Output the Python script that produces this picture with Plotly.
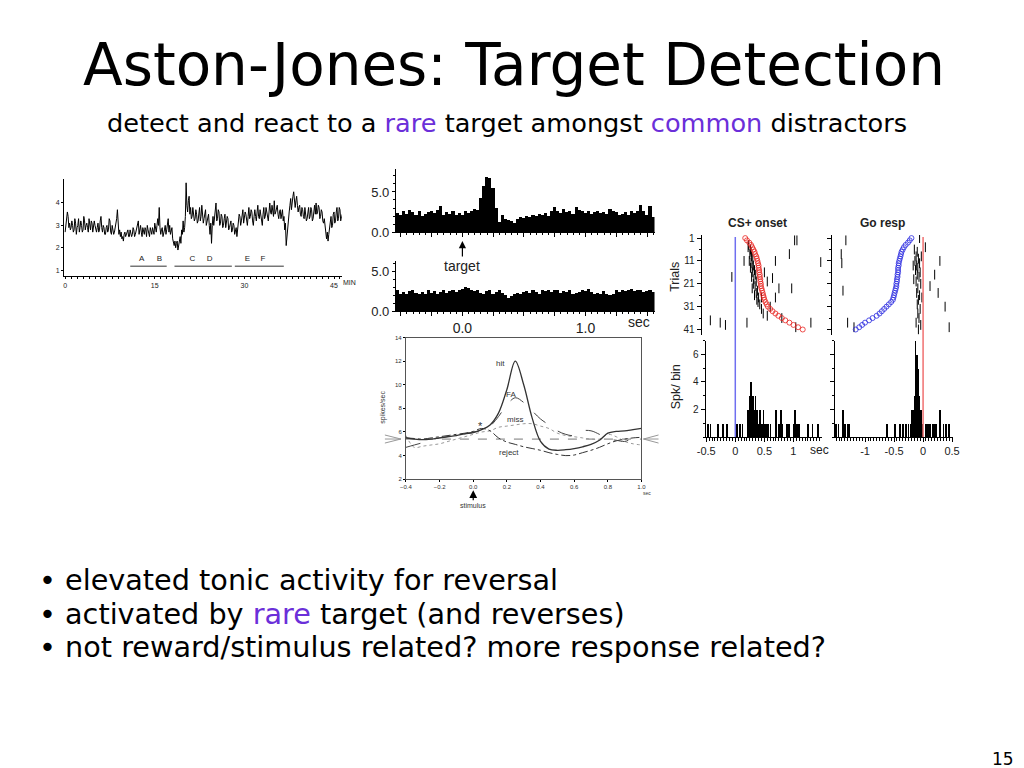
import plotly.graph_objects as go
import numpy as np

# figure size; the page photograph maps figure pixels with a small scale/offset,
# so reference-pixel positions are converted through that mapping
FW, FH = 1024, 768
SX, OX, SY, OY = 0.983, 16.0, 0.981, 13.0
def PX(x): return (x - OX) / SX / FW
def PY(y): return 1 - (y - OY) / SY / FH

PURPLE = "#6b2fd9"

# ---------------- data ----------------
# tonic trace (spikes/sec): samples every 0.25 min and the samples halfway between them
trace_step = 0.25
trace_vals = [
 2.7, 3.2, 3.4, 3.1, 2.9, 3.0, 2.8, 3.1, 2.9, 3.3, 2.9, 3.0, 2.8, 3.2, 3.0, 2.9, 3.3, 2.8, 3.1, 2.9, 3.0,
 2.7, 3.1, 2.8, 3.4, 2.7, 2.9, 2.6, 3.0, 2.8, 3.2, 2.6, 2.8, 2.7, 3.0, 3.7, 2.6, 2.5, 2.4, 2.3, 2.7,
 2.6, 2.8, 2.5, 2.7, 2.6, 2.8, 2.6, 2.9, 3.2, 2.8, 2.7, 2.9, 2.6, 2.8, 3.0, 2.7, 2.9, 2.6, 2.8, 3.1,
 2.7, 3.3, 3.8, 2.6, 2.9, 2.6, 3.0, 2.8, 3.3, 3.0, 2.7, 2.4, 2.1, 2.0, 2.3, 2.1, 2.5, 2.8, 3.2, 2.9,
 4.9, 3.6, 4.3, 3.8, 3.4, 3.6, 3.3, 3.5, 3.2, 3.8, 3.4, 3.6, 3.3, 3.7, 3.2, 3.5, 2.6, 2.2, 3.4, 3.3,
 4.0, 3.3, 3.6, 3.1, 3.4, 3.0, 3.5, 3.1, 3.3, 2.9, 3.2, 2.8, 3.0, 2.7, 2.5, 3.1, 3.4, 3.2, 3.7, 3.3,
 3.5, 3.0, 3.8, 3.4, 3.6, 3.0, 3.7, 3.2, 3.9, 3.3, 3.5, 3.0, 3.8, 3.4, 3.6, 3.2, 4.0, 3.5, 3.7, 4.1,
 3.6, 3.9, 3.3, 3.7, 3.5, 3.2, 2.8, 2.1, 3.0, 3.6, 4.2, 3.9, 4.5, 3.8, 4.3, 3.6, 3.9, 3.4, 3.7, 3.3,
 3.6, 3.3, 3.8, 3.4, 3.7, 3.3, 3.9, 4.0, 3.6, 3.8, 3.4, 3.6, 3.1, 2.9, 2.4, 2.3, 2.8, 3.4, 3.0, 3.6,
 3.2, 3.8, 3.3, 3.7, 3.4]
trace_mid = [
 3.0, 3.6, 2.9, 2.8, 3.2, 2.7, 3.3, 2.6, 3.0, 2.7, 3.2, 2.7, 3.4, 2.8, 3.1, 2.7, 2.9, 3.2, 2.7, 3.2, 2.8,
 2.9, 2.7, 3.2, 2.9, 3.0, 2.6, 2.9, 2.7, 3.3, 2.7, 3.0, 2.6, 2.9, 3.3, 2.9, 2.8, 2.7, 2.5, 2.6, 2.5,
 2.7, 2.5, 2.8, 2.5, 2.9, 2.5, 2.8, 3.0, 2.6, 3.0, 2.5, 2.7, 2.9, 2.5, 2.8, 2.5, 2.7, 2.9, 2.6, 2.8,
 3.0, 3.0, 2.9, 2.8, 2.5, 2.8, 2.6, 3.1, 2.7, 2.6, 2.9, 2.2, 2.3, 2.2, 1.9, 2.3, 2.2, 2.6, 2.7, 3.4,
 3.9, 4.1, 3.5, 3.3, 3.8, 3.2, 3.7, 3.1, 3.5, 3.2, 3.9, 3.1, 3.5, 3.0, 3.4, 3.0, 3.1, 3.0, 3.0, 3.6,
 3.2, 3.7, 3.0, 3.5, 2.9, 3.3, 2.9, 3.4, 2.8, 3.1, 2.7, 3.1, 2.6, 2.9, 2.8, 3.5, 3.0, 3.5, 3.1, 3.6,
 3.2, 3.4, 3.3, 3.7, 3.2, 3.4, 3.4, 3.6, 3.4, 3.7, 3.2, 3.5, 3.3, 3.8, 3.3, 3.6, 3.6, 3.9, 3.4, 3.5,
 3.8, 3.5, 3.6, 3.3, 3.7, 3.4, 3.1, 2.6, 3.4, 3.9, 3.7, 4.3, 4.0, 4.1, 3.9, 3.8, 3.5, 3.8, 3.4, 3.8,
 3.2, 3.7, 3.3, 3.8, 3.2, 3.6, 3.5, 3.5, 3.9, 3.3, 3.7, 3.2, 3.3, 2.6, 2.7, 2.6, 3.2, 2.9, 3.5, 3.1,
 3.6, 3.2, 3.8, 3.2, 3.5]
epoch_labels = ["A", "B", "C", "D", "E", "F"]
epoch_label_x = [12.8, 15.8, 21.3, 24.2, 30.5, 33.1]
epoch_bars = [(10.9, 17.0), (18.3, 27.9), (28.4, 36.6)]
trace_ticks = [0, 15, 30, 45]

# PSTH (target / non-target), bins of 0.025 s starting at -0.54 s
psth_start = -0.54
psth_bin = 0.025
psth_target = [
 2.4, 2.2, 2.6, 2.3, 2.8, 2.5, 2.2, 2.6, 2.0, 2.3, 2.5, 2.7, 2.4, 2.8, 3.3, 2.2, 2.5, 2.3, 2.7, 2.1,
 2.4, 2.2, 2.7, 2.4, 2.6, 2.9, 2.8, 4.3, 5.8, 6.9, 6.8, 5.5, 3.0, 1.3, 2.2, 1.6, 1.5, 1.4, 1.2, 1.6,
 1.9, 1.8, 2.0, 1.9, 2.2, 2.0, 2.3, 2.1, 2.4, 2.0, 2.6, 3.2, 2.7, 2.4, 2.9, 2.5, 2.7, 2.3, 3.1, 2.8,
 2.6, 2.4, 2.7, 2.3, 2.5, 2.6, 2.4, 2.5, 2.3, 2.9, 2.7, 2.5, 2.1, 2.3, 2.5, 2.2, 2.6, 2.4, 2.7, 3.4,
 2.6, 2.2, 3.3, 1.9]
psth_nontarget = [
 2.7, 2.2, 2.4, 2.1, 2.5, 2.6, 2.3, 2.2, 2.4, 2.1, 2.6, 2.3, 2.5, 2.2, 2.4, 2.6, 2.3, 2.5, 2.7, 2.4,
 2.6, 2.8, 3.0, 2.9, 2.7, 2.5, 2.6, 2.3, 2.1, 2.5, 2.6, 2.2, 2.4, 2.6, 2.3, 2.0, 1.7, 1.9, 2.1, 2.3,
 2.2, 2.4, 2.5, 2.3, 2.6, 2.4, 2.2, 2.7, 2.5, 2.6, 2.4, 2.7, 2.6, 2.3, 2.5, 2.4, 2.6, 2.2, 2.3, 2.4,
 2.7, 2.5, 2.8, 2.4, 2.2, 2.3, 2.1, 2.5, 2.2, 2.0, 2.2, 2.6, 2.4, 2.7, 2.5, 2.6, 2.8, 2.5, 2.7, 2.6,
 2.4, 2.5, 2.6, 2.4]

# response-type curves (spikes/sec)
t_curve = [-0.4, -0.35, -0.3, -0.25, -0.2, -0.15, -0.1, -0.05, 0.0, 0.05, 0.1, 0.15, 0.2, 0.25, 0.3,
           0.35, 0.4, 0.45, 0.5, 0.55, 0.6, 0.65, 0.7, 0.75, 0.8, 0.85, 0.9, 0.95, 1.0]
hit = [5.5, 5.4, 5.35, 5.4, 5.5, 5.6, 5.7, 5.85, 5.95, 6.2, 6.6, 7.6, 9.6, 12.0, 10.0,
       7.2, 5.2, 4.55, 4.45, 4.5, 4.6, 4.75, 4.95, 5.3, 5.9, 6.05, 6.1, 6.2, 6.3]
fa = [4.7, 4.9, 5.1, 5.35, 5.5, 5.6, 5.75, 5.85, 6.0, 6.15, 6.5, 7.3, 8.3, 8.9, 8.5,
      7.8, 7.1, 6.6, 6.1, 5.8, 5.7, 6.1, 6.1, 5.8, 5.4, 5.3, 5.2, 5.5, 5.8]
miss = [5.7, 4.7, 4.8, 4.9, 5.0, 5.2, 5.4, 5.6, 5.8, 6.0, 6.1, 6.4, 6.5, 6.6, 6.7,
        6.7, 6.5, 6.3, 5.9, 5.7, 5.6, 5.5, 5.4, 5.4, 5.8, 5.6, 5.2, 5.0, 4.9]
reject = [5.5, 5.45, 5.4, 5.5, 5.6, 5.7, 5.8, 5.9, 6.05, 6.3, 6.1, 5.5, 5.15, 4.95, 4.75,
          4.6, 4.45, 4.25, 4.1, 4.0, 4.05, 4.25, 4.45, 4.7, 5.0, 5.25, 5.4, 5.5, 5.55]
baseline_rate = 5.4

# raster: CS+ onset aligned
trials = list(range(1, 42))
cs_resp_time = [0.17, 0.2, 0.24, 0.27, 0.29, 0.31, 0.33, 0.34, 0.36, 0.37, 0.38, 0.39, 0.4, 0.4, 0.41,
                0.41, 0.42, 0.42, 0.43, 0.43, 0.44, 0.44, 0.45, 0.46, 0.47, 0.48, 0.49, 0.5, 0.52, 0.54,
                0.56, 0.6, 0.64, 0.69, 0.74, 0.8, 0.86, 0.93, 1.0, 1.08, 1.16]
cs_spk_x = [1.02, 1.06, 0.69, 1.47, 0.15, -0.06, 0.64, 0.75, 0.97, 0.69, 0.8, -0.43, -0.26, -0.17, 0.2,
            1.3, 1.04, 0.93, 0.22, 0.26, 0.25, 0.28, 0.3, 0.27, 0.31, 0.29, 0.33, 0.3, 0.35, 0.32,
            0.36, 0.34, 0.38, 0.36, 0.4, 0.37, 0.42, 0.45, 0.48, 0.55, 0.28, 0.24, 0.31, 0.33, 0.39,
            0.26, 0.29, 0.5, 0.55, 0.6, 0.45, 0.23, 0.27]
cs_spk_t = [2, 2, 11, 11.5, 11, 18, 18.5, 23, 23, 27, 36, 37, 38, 39, 38,
            38, 40, 8, 5, 6, 8, 9, 10, 12, 13, 14, 15, 16, 17, 19,
            20, 22, 24, 25, 27, 28, 30, 32, 34, 35, 18, 11, 21, 26, 29,
            14, 23, 16, 20, 31, 27, 4, 7]
cs_hist_x = [-0.47, -0.43, -0.3, -0.22, -0.15, 0.02, 0.08, 0.12, 0.21, 0.23, 0.24, 0.26, 0.27, 0.28,
             0.29, 0.3, 0.31, 0.32, 0.33, 0.34, 0.35, 0.37, 0.38, 0.4, 0.42, 0.44, 0.46, 0.48, 0.5,
             0.52, 0.56, 0.6, 0.69, 0.75, 0.78, 0.8, 0.88, 0.92, 1.0, 1.02, 1.04, 1.06, 1.08, 1.1,
             1.25, 1.32, 1.42]
cs_hist_y = [1, 1, 1, 1, 1, 1, 1, 1, 2, 2, 3, 4, 2, 3,
             2, 3, 2, 1, 2, 3, 1, 2, 1, 1, 2, 1, 1, 2, 1,
             1, 1, 1, 2, 1, 2, 1, 1, 1, 1, 2, 1, 1, 1, 1,
             1, 1, 1]

# raster: Go response aligned
go_stim_time = [-0.2, -0.23, -0.26, -0.3, -0.33, -0.35, -0.37, -0.38, -0.39, -0.4, -0.41, -0.42, -0.42,
                -0.43, -0.43, -0.43, -0.44, -0.44, -0.45, -0.45, -0.46, -0.46, -0.47, -0.48, -0.49,
                -0.5, -0.51, -0.52, -0.55, -0.59, -0.63, -0.67, -0.71, -0.75, -0.8, -0.87, -0.93,
                -1.0, -1.05, -1.1, -1.16]
go_spk_x = [-1.33, -1.41, -1.4, -1.38, -1.3, -1.19, 0.29, 0.2, 0.12, 0.26, 0.38, 0.45, 0.04, -0.06,
            -0.15, -0.1, -0.12, -0.08, -0.14, -0.06, -0.11, -0.09, -0.13, -0.05, -0.1, -0.07, -0.12,
            -0.04, -0.09, -0.11, -0.06, -0.08, -0.1, -0.05, -0.09, -0.07, -0.12, -0.04, -0.08, -0.16,
            -0.02, -0.17, -0.03]
go_spk_t = [2, 8, 12, 24, 38, 40, 11, 17, 22, 25, 31, 40, 5, 1,
            6, 7, 9, 10, 11, 12, 13, 14, 15, 16, 17, 18, 20,
            21, 23, 25, 26, 28, 30, 32, 34, 36, 38, 39, 41, 19,
            27, 13, 9]
go_hist_x = [-1.5, -1.46, -1.38, -1.35, -1.3, -1.27, -0.62, -0.48, -0.4, -0.35, -0.3, -0.25, -0.22,
             -0.19, -0.17, -0.15, -0.14, -0.13, -0.12, -0.11, -0.1, -0.09, -0.08, -0.07, -0.06, -0.05,
             -0.04, -0.02, 0.05, 0.08, 0.12, 0.17, 0.2, 0.23, 0.29, 0.35, 0.4, 0.45]
go_hist_y = [1, 1, 2, 1, 1, 1, 1, 1, 1, 1, 1, 1, 1,
             2, 2, 3, 2, 7, 4, 6, 3, 2, 5, 2, 3, 1,
             2, 1, 1, 1, 1, 1, 1, 1, 2, 1, 1, 1]

# ---------------- figure ----------------
fig = go.Figure()
AR = "Liberation Sans, Arial, sans-serif"
SL = "DejaVu Sans, Verdana, sans-serif"

def base_axis(dom, rng, **kw):
    d = dict(domain=dom, range=rng, showgrid=False, zeroline=False, showline=True,
             linecolor="black", linewidth=1, ticks="outside", tickcolor="black",
             tickfont=dict(family=AR, size=7, color="#222"))
    d.update(kw)
    return d

# panel 1: tonic trace (interleave full-step and half-step samples)
trace_y = [v for pair in zip(trace_vals, trace_mid) for v in pair]
trace_x = np.arange(len(trace_y)) * (trace_step / 2)
fig.add_trace(go.Scatter(x=trace_x, y=trace_y, mode="lines", line=dict(color="black", width=1),
                         xaxis="x", yaxis="y", showlegend=False))
for (a, b) in epoch_bars:
    fig.add_trace(go.Scatter(x=[a, b], y=[1.18, 1.18], mode="lines", line=dict(color="#333", width=1),
                             xaxis="x", yaxis="y", showlegend=False))
fig.add_trace(go.Scatter(x=epoch_label_x, y=[1.5] * len(epoch_label_x), mode="text", text=epoch_labels,
                         textfont=dict(family=AR, size=8, color="#222"), xaxis="x", yaxis="y",
                         showlegend=False))

# panel 2: PSTHs
pc_t = psth_start + psth_bin * (np.arange(len(psth_target)) + 0.5)
pc_n = psth_start + psth_bin * (np.arange(len(psth_nontarget)) + 0.5)
fig.add_trace(go.Bar(x=pc_t, y=psth_target, width=psth_bin, marker=dict(color="black", line=dict(width=0)),
                     xaxis="x2", yaxis="y2", showlegend=False))
fig.add_trace(go.Bar(x=pc_n, y=psth_nontarget, width=psth_bin, marker=dict(color="black", line=dict(width=0)),
                     xaxis="x3", yaxis="y3", showlegend=False))

# panel 3: response curves
fig.add_trace(go.Scatter(x=[-0.4, 1.0], y=[baseline_rate] * 2, mode="lines",
                         line=dict(color="#777", width=1, dash="dash"), xaxis="x4", yaxis="y4", showlegend=False))
fig.add_trace(go.Scatter(x=t_curve, y=miss, mode="lines", line=dict(color="#999", width=1, dash="dot", shape="spline"),
                         xaxis="x4", yaxis="y4", showlegend=False))
fig.add_trace(go.Scatter(x=t_curve, y=reject, mode="lines", line=dict(color="#333", width=1, dash="dashdot", shape="spline"),
                         xaxis="x4", yaxis="y4", showlegend=False))
fig.add_trace(go.Scatter(x=t_curve, y=fa, mode="lines", line=dict(color="#444", width=1, dash="longdash", shape="spline"),
                         xaxis="x4", yaxis="y4", showlegend=False))
fig.add_trace(go.Scatter(x=t_curve, y=hit, mode="lines", line=dict(color="#333", width=1.3, shape="spline"),
                         xaxis="x4", yaxis="y4", showlegend=False))

# panel 4: rasters
spk_marker = dict(symbol="line-ns", size=7, line=dict(width=1, color="black"), color="black")
fig.add_trace(go.Scatter(x=cs_spk_x, y=cs_spk_t, mode="markers", marker=spk_marker,
                         xaxis="x5", yaxis="y5", showlegend=False))
fig.add_trace(go.Scatter(x=cs_resp_time, y=trials, mode="markers",
                         marker=dict(symbol="circle-open", size=5, color="#e8231f", line=dict(width=0.8)),
                         xaxis="x5", yaxis="y5", showlegend=False))
fig.add_trace(go.Bar(x=cs_hist_x, y=cs_hist_y, width=0.012, marker=dict(color="black", line=dict(width=0)),
                     xaxis="x6", yaxis="y6", showlegend=False))
fig.add_trace(go.Scatter(x=go_spk_x, y=go_spk_t, mode="markers", marker=spk_marker,
                         xaxis="x7", yaxis="y7", showlegend=False))
fig.add_trace(go.Scatter(x=go_stim_time, y=trials, mode="markers",
                         marker=dict(symbol="circle-open", size=5, color="#2a2ae0", line=dict(width=0.8)),
                         xaxis="x7", yaxis="y7", showlegend=False))
fig.add_trace(go.Bar(x=go_hist_x, y=go_hist_y, width=0.012, marker=dict(color="black", line=dict(width=0)),
                     xaxis="x8", yaxis="y8", showlegend=False))

# raster axes start a few pixels left of the histogram axes (same time scale, 58 px/s)
cs_ras_dom, cs_ras_rng = [PX(699), PX(819)], [-0.58, 1.49]
cs_his_dom, cs_his_rng = [PX(703), PX(819)], [-0.51, 1.49]
go_ras_dom, go_ras_rng = [PX(829), PX(950)], [-1.57, 0.52]
go_his_dom, go_his_rng = [PX(832), PX(950)], [-1.52, 0.52]
ras_dom = [PY(335), PY(236)]
his_dom = [PY(437), PY(341)]
F11 = dict(family=AR, size=11, color="#222")
F10 = dict(family=AR, size=10, color="#222")

fig.update_layout(
    width=FW, height=FH, margin=dict(l=0, r=0, t=0, b=0),
    paper_bgcolor="white", plot_bgcolor="rgba(0,0,0,0)", bargap=0, showlegend=False,
    xaxis=base_axis([PX(63), PX(340)], [-0.17, 46.3], anchor="y", tickvals=trace_ticks,
                    ticktext=["0", "15", "30", "45"], ticklen=2, minor=dict(dtick=1, ticklen=2, ticks="outside")),
    yaxis=base_axis([PY(277), PY(180)], [0.73, 5.08], anchor="x", tickvals=[1, 2, 3, 4], ticklen=2),
    xaxis2=base_axis([PX(394), PX(652)], [-0.54, 1.56], anchor="y2", tickvals=[-0.5, -0.25, 0, 0.25, 0.5, 0.75, 1.0, 1.25, 1.5],
                     showticklabels=False, ticklen=4, minor=dict(dtick=0.05, ticklen=2, ticks="outside")),
    yaxis2=base_axis([PY(233), PY(170)], [0, 7.9], anchor="x2", tickvals=[0, 5], ticktext=["0.0", "5.0"],
                     ticklen=3, tickfont=dict(family=AR, size=13, color="#222"),
                     minor=dict(dtick=1, ticklen=2, ticks="outside")),
    xaxis3=base_axis([PX(394), PX(652)], [-0.54, 1.56], anchor="y3", tickvals=[-0.5, -0.25, 0, 0.25, 0.5, 0.75, 1.0, 1.25, 1.5],
                     ticktext=["", "", "0.0", "", "", "", "1.0", "", ""], ticklen=4,
                     tickfont=dict(family=AR, size=14, color="#222"),
                     minor=dict(dtick=0.05, ticklen=2, ticks="outside")),
    yaxis3=base_axis([PY(312), PY(262)], [0, 6.25], anchor="x3", tickvals=[0, 5], ticktext=["0.0", "5.0"],
                     ticklen=3, tickfont=dict(family=AR, size=13, color="#222"),
                     minor=dict(dtick=1, ticklen=2, ticks="outside")),
    xaxis4=base_axis([PX(404), PX(639)], [-0.4, 1.0], anchor="y4", dtick=0.2, tickformat=".1f",
                     ticklen=2, mirror=True, linecolor="#555", tickfont=dict(family=AR, size=6, color="#333")),
    yaxis4=base_axis([PY(479), PY(338)], [2, 14], anchor="x4", dtick=2, ticklen=2, mirror=True,
                     linecolor="#555", tickfont=dict(family=AR, size=6, color="#333")),
    xaxis5=dict(domain=cs_ras_dom, range=cs_ras_rng, visible=False, anchor="y5"),
    yaxis5=base_axis(ras_dom, [43.2, -0.32], anchor="x5", tickvals=[1, 11, 21, 31, 41], ticklen=4,
                     tickfont=F10, minor=dict(dtick=5, tick0=1, ticklen=2, ticks="outside")),
    xaxis6=base_axis(cs_his_dom, cs_his_rng, anchor="y6", tickvals=[-0.5, 0, 0.5, 1], ticktext=["-0.5", "0", "0.5", "1"],
                     ticklen=4, tickfont=F11, minor=dict(dtick=0.05, ticklen=3, ticks="outside")),
    yaxis6=base_axis(his_dom, [0, 7], anchor="x6", tickvals=[2, 4, 6], ticklen=4,
                     tickfont=F10, minor=dict(dtick=1, ticklen=2, ticks="outside")),
    xaxis7=dict(domain=go_ras_dom, range=go_ras_rng, visible=False, anchor="y7"),
    yaxis7=base_axis(ras_dom, [43.2, -0.32], anchor="x7", tickvals=[1, 11, 21, 31, 41], showticklabels=False,
                     ticklen=4, minor=dict(dtick=5, tick0=1, ticklen=2, ticks="outside")),
    xaxis8=base_axis(go_his_dom, go_his_rng, anchor="y8", tickvals=[-1, -0.5, 0, 0.5], ticktext=["-1", "-0.5", "0", "0.5"],
                     ticklen=4, tickfont=F11, minor=dict(dtick=0.05, ticklen=3, ticks="outside")),
    yaxis8=base_axis(his_dom, [0, 7], anchor="x8", tickvals=[2, 4, 6], showticklabels=False, ticklen=4,
                     minor=dict(dtick=1, ticklen=2, ticks="outside")),
)

# vertical alignment lines
fig.add_shape(type="line", xref="x6", yref="paper", x0=0, x1=0, y0=PY(437), y1=PY(238),
              line=dict(color="#6f6ff0", width=1.5))
fig.add_shape(type="line", xref="x8", yref="paper", x0=0, x1=0, y0=PY(437), y1=PY(238),
              line=dict(color="#f07070", width=1.5))

# baseline arrowheads (pixel paths converted to paper coords)
def pix_path(segs):
    return " ".join(f"{cmd} {PX(x)},{PY(y)}" for cmd, x, y in segs)
for segs in ([("M", 383, 435), ("L", 399, 439), ("L", 383, 443), ("M", 383, 439), ("L", 399, 439)],
             [("M", 656, 435), ("L", 641, 439), ("L", 656, 443), ("M", 656, 439), ("L", 641, 439)]):
    fig.add_shape(type="path", xref="paper", yref="paper", path=pix_path(segs),
                  line=dict(color="#999", width=1))

ann = []
def T(text, x, y, size, family=SL, color="black", xanchor="center", yanchor="middle", **kw):
    d = dict(text=text, x=PX(x), y=PY(y), xref="paper", yref="paper", showarrow=False,
             font=dict(family=family, size=size, color=color), xanchor=xanchor, yanchor=yanchor)
    d.update(kw)
    ann.append(d)

T("Aston-Jones: Target Detection", 512, 67, 58)
T(f"detect and react to a <span style='color:{PURPLE}'>rare</span> target amongst "
  f"<span style='color:{PURPLE}'>common</span> distractors", 505, 124, 25.6)
T("• elevated tonic activity for reversal", 36, 579, 28.7, xanchor="left")
T(f"• activated by <span style='color:{PURPLE}'>rare</span> target (and reverses)", 36, 613, 28.7, xanchor="left")
T("• not reward/stimulus related? more response related?", 36, 646, 28.7, xanchor="left")
T("15", 1013, 757, 17, xanchor="right")

T("MIN", 348, 283, 7, family=AR, color="#222")
T("sec", 637, 323, 14, family=AR, color="#222")
T("spikes/sec", 381, 407, 7, family=AR, color="#333", textangle=-90)
T("sec", 644, 493, 5, family=AR, color="#333")
T("hit", 498, 364, 8, family=AR, color="#333")
T("FA", 509, 395, 8, family=AR, color="#333")
T("miss", 513, 420, 8, family=AR, color="#333")
T("reject", 507, 452, 8, family=AR, color="#333")
T("*", 478, 426, 11, family=AR, color="#333")
T("<b>CS+ onset</b>", 755, 224, 12, family=AR, color="#222")
T("<b>Go resp</b>", 879, 224, 12, family=AR, color="#222")
T("Trials", 673, 278, 12.5, family=AR, color="#222", textangle=-90)
T("Spk/ bin", 673, 387, 12.5, family=AR, color="#222", textangle=-90)
T("sec", 817, 450, 12, family=AR, color="#222")

# arrows
ann.append(dict(text="target", x=0, y=PY(242), xref="x3", yref="paper", showarrow=True, ax=0, ay=25,
                arrowhead=2, arrowsize=1.2, arrowwidth=1.2, arrowcolor="black",
                font=dict(family=AR, size=14, color="#222")))
ann.append(dict(text="stimulus", x=0, y=PY(490), xref="x4", yref="paper", showarrow=True, ax=0, ay=15,
                arrowhead=2, arrowsize=1.3, arrowwidth=1.2, arrowcolor="black",
                font=dict(family=AR, size=7, color="#333")))

fig.update_layout(annotations=ann)
fig.write_html("out.html")
